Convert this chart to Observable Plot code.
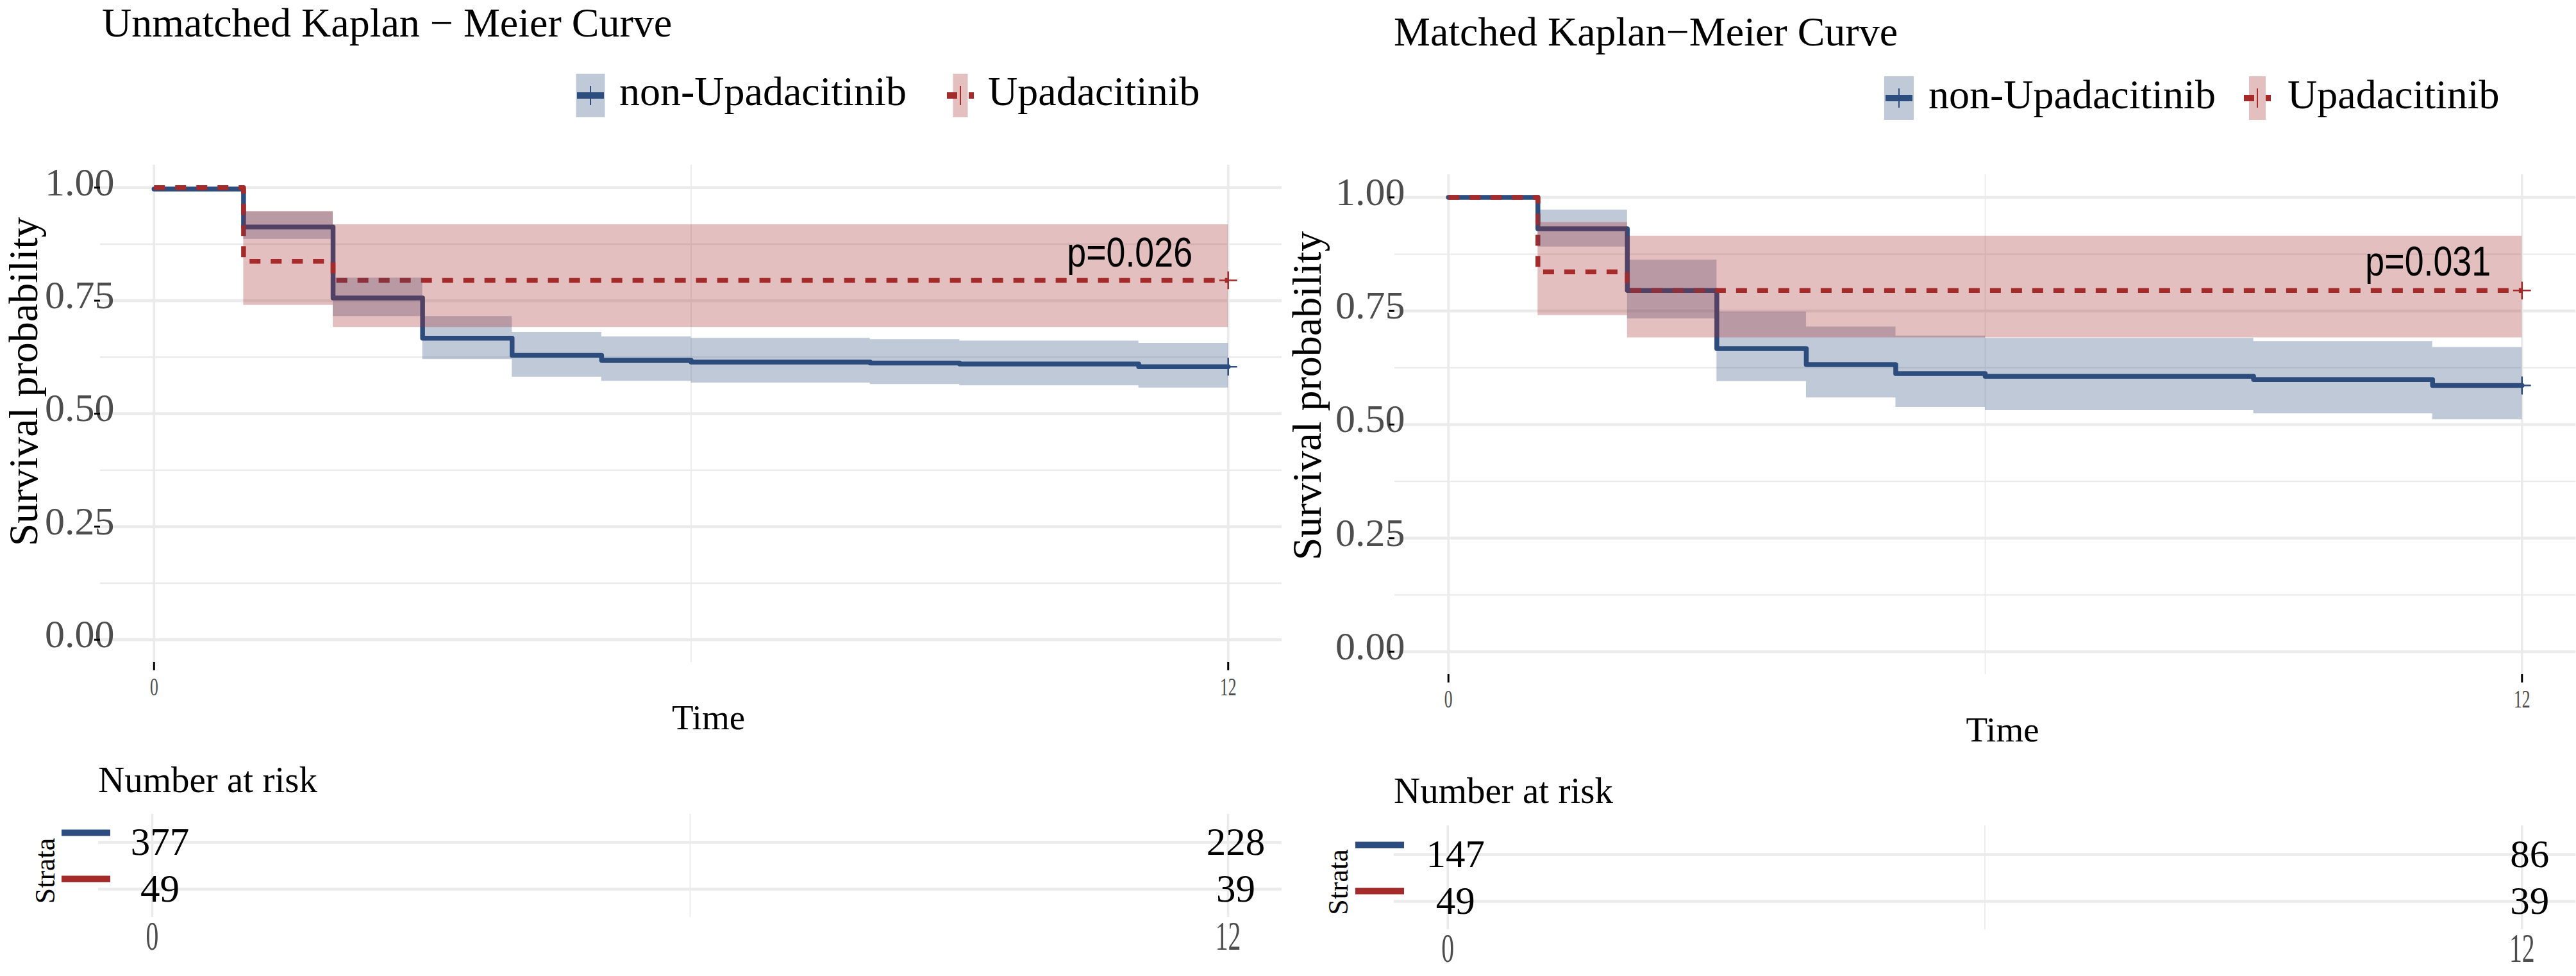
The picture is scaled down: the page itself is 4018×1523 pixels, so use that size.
<!DOCTYPE html>
<html>
<head>
<meta charset="utf-8">
<script src="https://cdn.jsdelivr.net/npm/d3@7"></script>
<script src="https://cdn.jsdelivr.net/npm/@observablehq/plot@0.6"></script>
<style>
html, body { margin: 0; padding: 0; background: #fff; }
#root { position: relative; width: 4018px; height: 1523px; overflow: hidden; background: #fff;
  font-family: 'Liberation Serif', 'Times New Roman', serif; color: #000; }
.abs { position: absolute; white-space: nowrap; line-height: 1; }
.abs svg { max-width: none !important; }
</style>
</head>
<body>
<div id="root"></div>
<script>
// ---------------- DATA ----------------
const strata = ["non-Upadacitinib", "Upadacitinib"];
const panelTitles = ["Unmatched Kaplan \u2212 Meier Curve", "Matched Kaplan\u2212Meier Curve"];

// Unmatched: non-Upadacitinib
const uBlueTime  = [0, 1, 2, 3, 4, 5, 6, 8, 9, 11, 12];
const uBlueSurv  = [0.997, 0.913, 0.756, 0.667, 0.629, 0.618, 0.614, 0.612, 0.610, 0.604, 0.604];
const uBlueUpper = [0.997, 0.946, 0.800, 0.715, 0.680, 0.670, 0.667, 0.664, 0.661, 0.656, 0.656];
const uBlueLower = [0.997, 0.886, 0.715, 0.620, 0.581, 0.572, 0.568, 0.565, 0.562, 0.557, 0.557];
// Unmatched: Upadacitinib
const uRedTime  = [0, 1, 2, 12];
const uRedSurv  = [1, 0.837, 0.795, 0.795];
const uRedUpper = [1, 0.948, 0.918, 0.918];
const uRedLower = [1, 0.740, 0.691, 0.691];

// Matched: non-Upadacitinib
const mBlueTime  = [0, 1, 2, 3, 4, 5, 6, 9, 11, 12];
const mBlueSurv  = [1, 0.931, 0.795, 0.667, 0.632, 0.612, 0.606, 0.599, 0.586, 0.586];
const mBlueUpper = [1, 0.972, 0.862, 0.748, 0.715, 0.695, 0.690, 0.683, 0.670, 0.670];
const mBlueLower = [1, 0.891, 0.733, 0.595, 0.559, 0.538, 0.531, 0.524, 0.511, 0.511];
// Matched: Upadacitinib
const mRedTime  = [0, 1, 2, 12];
const mRedSurv  = [1, 0.836, 0.795, 0.795];
const mRedUpper = [1, 0.945, 0.915, 0.915];
const mRedLower = [1, 0.740, 0.691, 0.691];

// Number at risk
const riskTimes = [0, 12];
const uRiskBlue = [377, 228];
const uRiskRed  = [49, 39];
const mRiskBlue = [147, 86];
const mRiskRed  = [49, 39];

// p-values and where they sit (time, survival)
const pValues = ["p=0.026", "p=0.031"];
const pTime   = [10.9, 10.95];
const pSurv   = [0.855, 0.857];

// ticks
const yTicks = [0, 0.25, 0.5, 0.75, 1];
const yMinorTicks = [0.125, 0.375, 0.625, 0.875];
const xTicks = [0, 12];
const xMinorTicks = [6];

// ---------------- STYLE / LAYOUT ----------------
const BLUE = "#2D4D7E";
const RED = "#A52A2A";
const GRID = "#EBEBEB";
const TICKGREY = "#4D4D4D";
const SERIF = "'Liberation Serif','Times New Roman',serif";
const SANS = "'Liberation Sans Narrow','Arial Narrow','Liberation Sans',Arial,sans-serif";

const panels = [
  { left: 0, width: 2000, titleX: 159, titleBase: 58,
    legBase: 165, keyY: 149, blueKeyX: 921, blueKeyW: 45, redKeyX: 1498, redKeyW: 23, blueTextX: 966, redTextX: 1541,
    mainTop: 200, mainHeight: 960, frameTop: 257, frameBottom: 1033, frameLeft: 156, frameRight: 1999,
    yLabPad: -22, yLabDx: -119, yLabDy: -50,
    riskTitleBase: 1236, riskTop: 1260, riskHeight: 240, riskFrameTop: 1270, riskFrameBottom: 1431, riskFrameLeft: 153,
    dashDx: 19, strataDx: -83, strataDy: 8 },
  { left: 2000, width: 2018, titleX: 2174, titleBase: 72,
    legBase: 170, keyY: 153, blueKeyX: 2962, blueKeyW: 46, redKeyX: 3521, redKeyW: 26, blueTextX: 3008, redTextX: 3568,
    mainTop: 215, mainHeight: 964, frameTop: 272, frameBottom: 1052, frameLeft: 2175, frameRight: 4017,
    yLabPad: -16, yLabDx: -136, yLabDy: -45,
    riskTitleBase: 1253, riskTop: 1278, riskHeight: 240, riskFrameTop: 1288, riskFrameBottom: 1450, riskFrameLeft: 2174,
    dashDx: 16, strataDx: -87, strataDy: 7 }
];

const root = document.getElementById("root");

function placeText(text, x, baseline, fs, extra = {}) {
  const d = document.createElement("div");
  d.className = "abs";
  d.textContent = text;
  d.style.left = x + "px";
  d.style.top = (baseline - 0.8375 * fs) + "px";
  d.style.fontSize = fs + "px";
  Object.assign(d.style, extra);
  root.appendChild(d);
}

function legendKey(cx, cy, w, color, dashed) {
  const svg = d3.create("svg").attr("width", 60).attr("height", 80)
    .style("position", "absolute").style("left", (cx - 30) + "px").style("top", (cy - 40) + "px")
    .style("overflow", "visible");
  svg.append("rect").attr("x", 30 - w / 2).attr("y", 6).attr("width", w).attr("height", 68)
    .attr("fill", color).attr("fill-opacity", 0.3);
  svg.append("line").attr("x1", 9).attr("x2", 51).attr("y1", 40).attr("y2", 40)
    .attr("stroke", color).attr("stroke-width", 10).attr("stroke-dasharray", dashed ? "16 18" : null);
  svg.append("line").attr("x1", 30).attr("x2", 30).attr("y1", 25).attr("y2", 55)
    .attr("stroke", color).attr("stroke-width", 2);
  root.appendChild(svg.node());
}

function squeeze(texts, k) {
  texts.forEach(t => {
    const tr = t.getAttribute("transform") || "";
    t.setAttribute("transform", tr + ` scale(${k},1)`);
  });
}
function squeezeXLabels(svg, k) {
  squeeze(svg.querySelectorAll('g[aria-label="x-axis tick label"] text'), k);
}

function addPlot(node, left, top, width) {
  const wrap = document.createElement("div");
  wrap.className = "abs";
  wrap.style.left = left + "px";
  wrap.style.top = top + "px";
  wrap.style.width = width + "px";
  wrap.appendChild(node);
  root.appendChild(wrap);
}

function rows(time, surv, lower, upper) {
  return time.map((t, i) => ({ time: t, surv: surv[i], lo: lower[i], hi: upper[i] }));
}

const intFmt = d3.format("d");

function mainPlot(P, blue, red, pIdx) {
  const last = a => [a[a.length - 1]];
  const plot = Plot.plot({
    width: P.width, height: P.mainHeight,
    marginLeft: P.frameLeft - P.left,
    marginRight: P.left + P.width - P.frameRight,
    marginTop: P.frameTop - P.mainTop,
    marginBottom: P.mainTop + P.mainHeight - P.frameBottom,
    style: { background: "transparent", overflow: "visible", fontFamily: SERIF, maxWidth: "none" },
    x: { domain: [-0.6, 12.6] },
    y: { domain: [-0.05, 1.05] },
    marks: [
      Plot.gridY(yMinorTicks, { stroke: GRID, strokeOpacity: 1, strokeWidth: 2.4 }),
      Plot.gridY(yTicks, { stroke: GRID, strokeOpacity: 1, strokeWidth: 4.6 }),
      Plot.gridX(xMinorTicks, { stroke: GRID, strokeOpacity: 1, strokeWidth: 1.8 }),
      Plot.gridX(xTicks, { stroke: GRID, strokeOpacity: 1, strokeWidth: 3.6 }),
      Plot.axisY(yTicks, { tickSize: 0, tickPadding: P.yLabPad, tickFormat: d3.format(".2f"),
        fontSize: 62, fill: TICKGREY, dy: -8, label: null }),
      Plot.axisY(yTicks, { tickSize: 9, tickFormat: () => "", stroke: "black", strokeWidth: 3, label: null }),
      Plot.axisX(xTicks, { tickSize: 13, tickPadding: 10, fontSize: 40, fill: TICKGREY, tickFormat: intFmt,
        stroke: "black", strokeWidth: 3, label: null }),
      Plot.line(blue, { x: "time", y: "surv", curve: "step-after", stroke: BLUE, strokeWidth: 7.5 }),
      Plot.line(red, { x: "time", y: "surv", curve: "step-after", stroke: RED, strokeWidth: 7.5,
        strokeDasharray: "17 16", strokeLinecap: "butt" }),
      Plot.areaY(blue, { x: "time", y1: "lo", y2: "hi", curve: "step-after", fill: BLUE, fillOpacity: 0.3 }),
      Plot.areaY(red, { x: "time", y1: "lo", y2: "hi", curve: "step-after", fill: RED, fillOpacity: 0.3 }),
      Plot.dot(last(blue), { x: "time", y: "surv", symbol: "plus", r: 9, stroke: BLUE, strokeWidth: 2.5 }),
      Plot.dot(last(red), { x: "time", y: "surv", symbol: "plus", r: 9, stroke: RED, strokeWidth: 2.5 }),
      Plot.text([pValues[pIdx]], { x: pTime[pIdx], y: pSurv[pIdx], text: d => d, fontSize: 64,
        fontFamily: SANS, fill: "black", textAnchor: "middle", lineAnchor: "middle" }),
      Plot.text(["Time"], { frameAnchor: "bottom", textAnchor: "middle", lineAnchor: "middle",
        dx: 27, dy: 87, fontSize: 55, fill: "black" }),
      Plot.text(["Survival probability"], { frameAnchor: "left", textAnchor: "middle", lineAnchor: "middle",
        rotate: -90, dx: P.yLabDx, dy: P.yLabDy, fontSize: 64, fill: "black" })
    ]
  });
  squeezeXLabels(plot, 0.64);
  // the p-value is set in a condensed face in the reference
  squeeze([...plot.querySelectorAll("text")].filter(t => t.textContent === pValues[pIdx]), 0.84);
  addPlot(plot, P.left, P.mainTop, P.width);
}

function riskPlot(P, riskBlue, riskRed) {
  const data = [
    ...riskTimes.map((t, i) => ({ time: t, stratum: strata[0], n: riskBlue[i] })),
    ...riskTimes.map((t, i) => ({ time: t, stratum: strata[1], n: riskRed[i] }))
  ];
  const plot = Plot.plot({
    width: P.width, height: P.riskHeight,
    marginLeft: P.riskFrameLeft - P.left,
    marginRight: P.left + P.width - P.frameRight,
    marginTop: P.riskFrameTop - P.riskTop,
    marginBottom: P.riskTop + P.riskHeight - P.riskFrameBottom,
    style: { background: "transparent", overflow: "visible", fontFamily: SERIF, maxWidth: "none" },
    x: { domain: [-0.6, 12.6] },
    y: { type: "point", domain: strata, padding: 0.6 },
    marks: [
      Plot.gridY(strata, { stroke: GRID, strokeOpacity: 1, strokeWidth: 4.6 }),
      Plot.gridX(xMinorTicks, { stroke: GRID, strokeOpacity: 1, strokeWidth: 1.8 }),
      Plot.gridX(xTicks, { stroke: GRID, strokeOpacity: 1, strokeWidth: 3.6 }),
      Plot.axisY([strata[0]], { tickSize: 76, dx: P.dashDx, dy: -15, stroke: BLUE, strokeWidth: 10,
        tickFormat: () => "", label: null }),
      Plot.axisY([strata[1]], { tickSize: 76, dx: P.dashDx, dy: -16, stroke: RED, strokeWidth: 10,
        tickFormat: () => "", label: null }),
      Plot.axisX(xTicks, { tickSize: 0, tickPadding: 5, fontSize: 64, fill: TICKGREY, tickFormat: intFmt, label: null }),
      Plot.text(data, { x: "time", y: "stratum", text: "n", fontSize: 61, dx: 12, fill: "black" }),
      Plot.text(["Strata"], { frameAnchor: "left", textAnchor: "middle", lineAnchor: "middle",
        rotate: -90, dx: P.strataDx, dy: P.strataDy, fontSize: 44, fill: "black" })
    ]
  });
  squeezeXLabels(plot, 0.62);
  addPlot(plot, P.left, P.riskTop, P.width);
}

function buildPanel(idx, blue, red, riskBlue, riskRed) {
  const P = panels[idx];
  placeText(panelTitles[idx], P.titleX, P.titleBase, 64);
  legendKey(P.blueKeyX, P.keyY, P.blueKeyW, BLUE, false);
  legendKey(P.redKeyX, P.keyY, P.redKeyW, RED, true);
  placeText(strata[0], P.blueTextX, P.legBase, 64);
  placeText(strata[1], P.redTextX, P.legBase, 64);
  mainPlot(P, blue, red, idx);
  placeText("Number at risk", P.riskFrameLeft, P.riskTitleBase, 57);
  riskPlot(P, riskBlue, riskRed);
}

buildPanel(0, rows(uBlueTime, uBlueSurv, uBlueLower, uBlueUpper), rows(uRedTime, uRedSurv, uRedLower, uRedUpper),
  uRiskBlue, uRiskRed);
buildPanel(1, rows(mBlueTime, mBlueSurv, mBlueLower, mBlueUpper), rows(mRedTime, mRedSurv, mRedLower, mRedUpper),
  mRiskBlue, mRiskRed);
</script>
</body>
</html>
